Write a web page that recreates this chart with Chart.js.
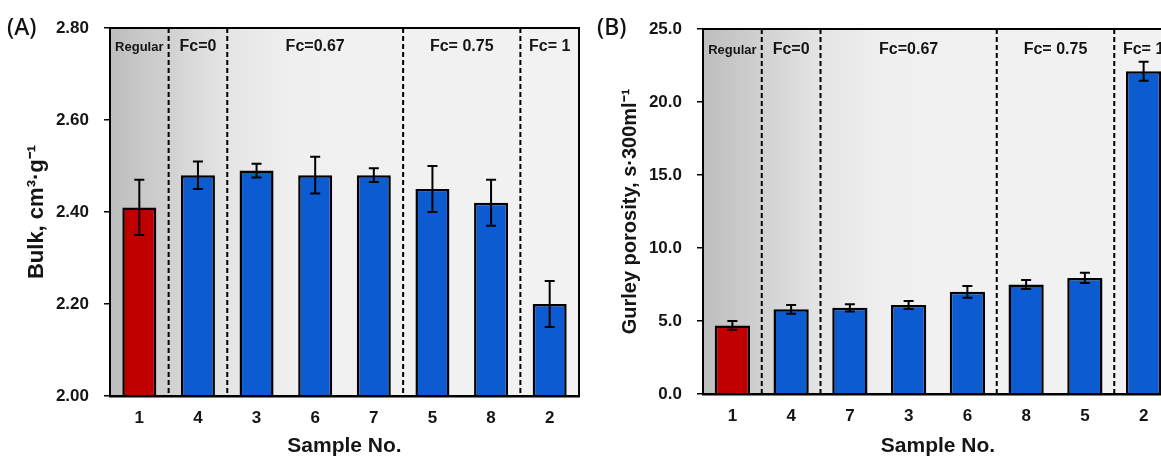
<!DOCTYPE html>
<html>
<head>
<meta charset="utf-8">
<script src="https://cdn.jsdelivr.net/npm/chart.js@4.4.0/dist/chart.umd.min.js"></script>
<style>
  html, body { margin: 0; padding: 0; background: #fff; overflow: hidden; }
  #wrap { position: relative; width: 1161px; height: 457px; overflow: hidden; }
  canvas { position: absolute; top: 0; }
  #cA { left: 0; }
  #cB { left: 590px; }
  .tag { position: absolute; top: 10px; font: 500 23px 'Noto Sans', sans-serif; color: #111; }
</style>
</head>
<body>
<div id="wrap">
  <canvas id="cA" width="590" height="457"></canvas>
  <canvas id="cB" width="590" height="457"></canvas>
  <div class="tag" style="left:7px">(A)</div>
  <div class="tag" style="left:597px">(B)</div>
</div>
<script>
// ─── Data ─────────────────────────────────────────────
const bulkSamples  = ['1', '4', '3', '6', '7', '5', '8', '2'];
const bulkValues   = [2.41, 2.48, 2.49, 2.48, 2.48, 2.45, 2.42, 2.20];
const bulkErrors   = [0.06, 0.03, 0.015, 0.04, 0.015, 0.05, 0.05, 0.05];
const bulkTicks    = [2.00, 2.20, 2.40, 2.60, 2.80];

const gurleySamples = ['1', '4', '7', '3', '6', '8', '5', '2'];
const gurleyValues  = [4.7, 5.8, 5.9, 6.1, 7.0, 7.5, 7.95, 22.1];
const gurleyErrors  = [0.3, 0.3, 0.25, 0.27, 0.4, 0.3, 0.35, 0.65];
const gurleyTicks   = [0, 5, 10, 15, 20, 25];

// groups of samples (index ranges), dashed separators after these indices
const groupNames = ['Regular', 'Fc=0', 'Fc=0.67', 'Fc= 0.75', 'Fc= 1'];
const groupFirst = [0, 1, 2, 5, 7];
const groupLast  = [0, 1, 4, 6, 7];
const dividerAfter = [0, 1, 4, 6];

const RED  = '#c00000';
const BLUE = '#0c5bd0';
const FONT = "'Liberation Sans', Arial, sans-serif";
const TEXT = '#151515';

Chart.defaults.font.family = FONT;

function panelPlugins(errors, labelOffset) {
  return [
    {
      id: 'bgGradient',
      beforeDraw(chart) {
        const { ctx, chartArea: a } = chart;
        const g = ctx.createLinearGradient(a.left, 0, a.right, 0);
        g.addColorStop(0, '#bdbdbd');
        g.addColorStop(0.125, '#d1d1d1');
        g.addColorStop(0.25, '#e5e5e5');
        g.addColorStop(0.4, '#f0f0f0');
        g.addColorStop(1, '#f2f2f2');
        ctx.save();
        ctx.fillStyle = g;
        ctx.fillRect(a.left, a.top, a.right - a.left, a.bottom - a.top);
        ctx.restore();
      },
    },
    {
      id: 'groups',
      beforeDatasetsDraw(chart) {
        const { ctx, chartArea: a } = chart;
        const xs = chart.scales.x;
        ctx.save();
        ctx.strokeStyle = '#000';
        ctx.lineWidth = 2;
        ctx.setLineDash([5, 3]);
        dividerAfter.forEach(i => {
          const x = (xs.getPixelForValue(i) + xs.getPixelForValue(i + 1)) / 2;
          ctx.beginPath();
          ctx.moveTo(x, a.top);
          ctx.lineTo(x, a.bottom);
          ctx.stroke();
        });
        ctx.setLineDash([]);
        ctx.fillStyle = TEXT;
        ctx.textAlign = 'center';
        ctx.textBaseline = 'middle';
        groupNames.forEach((name, k) => {
          const x = (xs.getPixelForValue(groupFirst[k]) + xs.getPixelForValue(groupLast[k])) / 2;
          ctx.font = (k === 0 ? 'bold 13px ' : 'bold 16px ') + FONT;
          ctx.fillText(name, x, a.top + labelOffset);
        });
        ctx.restore();
      },
    },
    {
      id: 'errorBars',
      afterDatasetsDraw(chart) {
        const { ctx } = chart;
        const ys = chart.scales.y;
        const vals = chart.data.datasets[0].data;
        ctx.save();
        ctx.strokeStyle = '#000';
        ctx.lineWidth = 2;
        chart.getDatasetMeta(0).data.forEach((bar, i) => {
          const yt = ys.getPixelForValue(vals[i] + errors[i]);
          const yb = ys.getPixelForValue(vals[i] - errors[i]);
          ctx.beginPath();
          ctx.moveTo(bar.x, yt); ctx.lineTo(bar.x, yb);
          ctx.moveTo(bar.x - 5, yt); ctx.lineTo(bar.x + 5, yt);
          ctx.moveTo(bar.x - 5, yb); ctx.lineTo(bar.x + 5, yb);
          ctx.stroke();
        });
        ctx.restore();
      },
    },
    {
      id: 'frame',
      afterDraw(chart) {
        const { ctx, chartArea: a } = chart;
        ctx.save();
        ctx.strokeStyle = '#000';
        ctx.lineWidth = 2;
        ctx.strokeRect(a.left, a.top, a.right - a.left, a.bottom - a.top);
        ctx.restore();
      },
    },
  ];
}

function makePanel(canvasId, cfg) {
  return new Chart(document.getElementById(canvasId), {
    type: 'bar',
    data: {
      labels: cfg.labels,
      datasets: [{
        data: cfg.values,
        backgroundColor: ctx => (ctx.dataIndex === 0 ? RED : BLUE),
        borderColor: '#000',
        borderWidth: 2.5,
        barPercentage: cfg.barPct,
        categoryPercentage: 1,
      }],
    },
    options: {
      responsive: false,
      animation: false,
      layout: { padding: { top: cfg.top, right: cfg.right, left: 0, bottom: 0 } },
      plugins: { legend: { display: false }, tooltip: { enabled: false } },
      scales: {
        x: {
          afterFit: s => { s.height = cfg.xHeight; },
          grid: { display: false, drawTicks: false },
          border: { color: '#000', width: 2.5 },
          ticks: { color: TEXT, padding: 12, font: { size: 17, weight: 'bold' } },
          title: {
            display: true, text: 'Sample No.', color: TEXT,
            font: { size: 21, weight: 'bold', lineHeight: 1 },
            padding: { top: 0, bottom: 0 },
          },
        },
        y: {
          min: cfg.ticks[0],
          max: cfg.ticks[cfg.ticks.length - 1],
          afterFit: s => { s.width = cfg.yWidth; },
          afterBuildTicks: s => { s.ticks = cfg.ticks.map(v => ({ value: v })); },
          grid: { drawOnChartArea: false, tickLength: 6, color: '#000', lineWidth: 1.5 },
          border: { color: '#000', width: 2 },
          ticks: {
            color: TEXT, padding: 15,
            font: { size: 17, weight: 'bold' },
            callback: v => v.toFixed(cfg.decimals),
          },
          title: {
            display: true, text: cfg.yTitle, color: TEXT,
            font: { size: cfg.yTitleSize, weight: 'bold', lineHeight: 1 },
            padding: { top: cfg.yTitlePad, bottom: 0 },
          },
        },
      },
    },
    plugins: panelPlugins(cfg.errors, cfg.labelOffset),
  });
}

makePanel('cA', {
  labels: bulkSamples, values: bulkValues, errors: bulkErrors, ticks: bulkTicks,
  decimals: 2, yTitle: 'Bulk, cm³·g⁻¹', yTitleSize: 22, yTitlePad: 26,
  top: 28, right: 11, xHeight: 61, yWidth: 110, barPct: 0.58, labelOffset: 19,
});

makePanel('cB', {
  labels: gurleySamples, values: gurleyValues, errors: gurleyErrors, ticks: gurleyTicks,
  decimals: 1, yTitle: 'Gurley porosity, s·300ml⁻¹', yTitleSize: 20, yTitlePad: 30,
  top: 29, right: 7, xHeight: 63, yWidth: 113, barPct: 0.6, labelOffset: 21,
});
</script>
</body>
</html>
